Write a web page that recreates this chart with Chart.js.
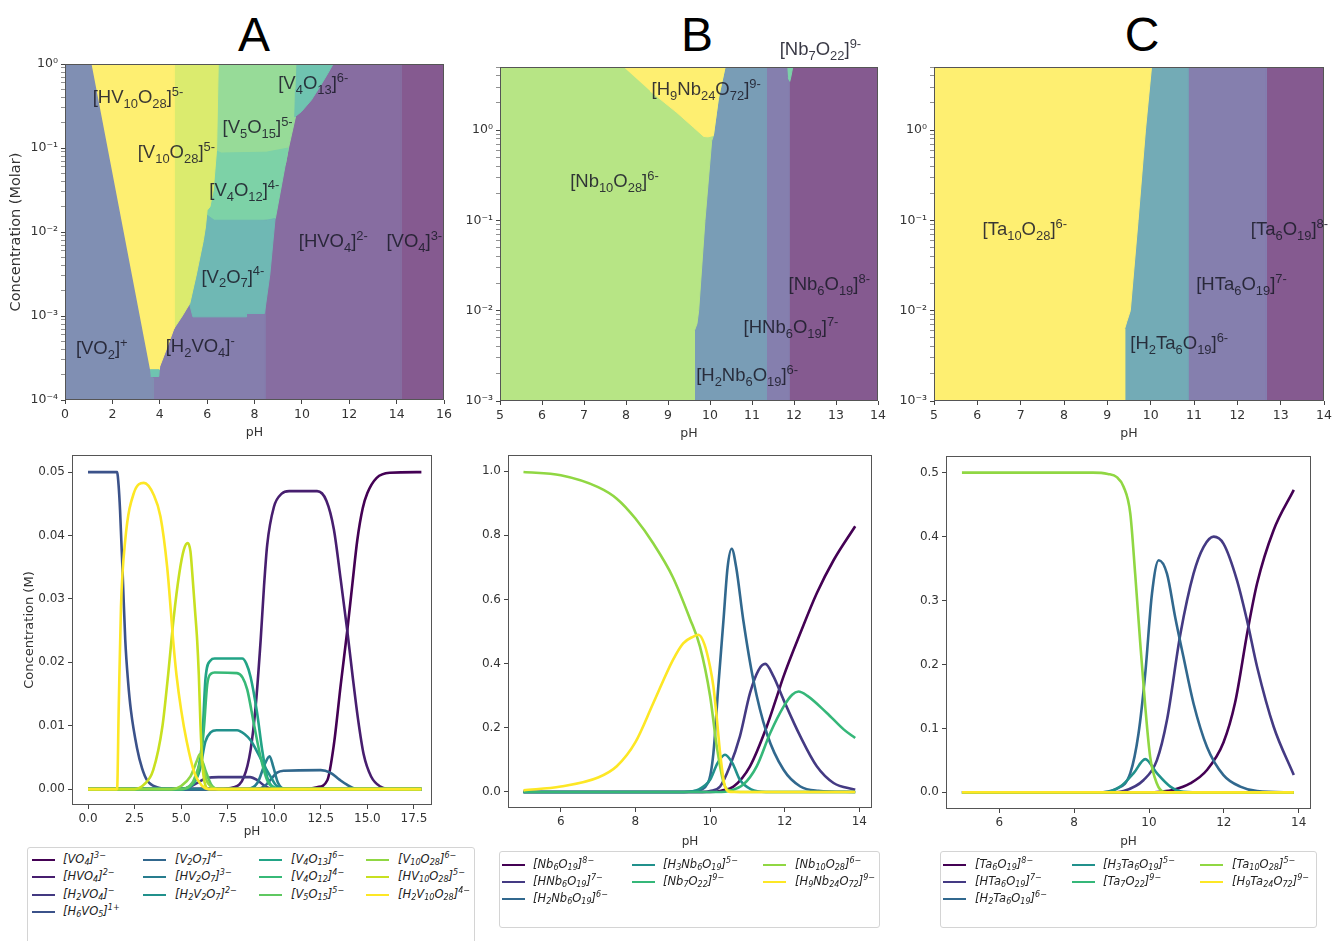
<!DOCTYPE html>
<html>
<head>
<meta charset="utf-8">
<script src="https://cdn.jsdelivr.net/npm/chart.js@4.4.1/dist/chart.umd.min.js"></script>
<style>
    html, body { margin: 0; padding: 0; background: #fff; width: 1335px; height: 941px; overflow: hidden; position: relative; font-family: "DejaVu Sans", sans-serif; }
    canvas { position: absolute; }
    .panel-title { position: absolute; font-family: "Liberation Sans", Arial, sans-serif; font-size: 48px; line-height: 1; color: #000; transform: translateX(-50%); }
    .region-label { position: absolute; font-family: "Liberation Sans", Arial, sans-serif; font-size: 18.5px; line-height: 1; color: rgba(28, 28, 42, 0.88); white-space: nowrap; }
    sub, sup { font-size: 0.7em; line-height: 0; position: relative; vertical-align: baseline; }
    .region-label sub { top: 0.38em; }
    .region-label sup { top: -0.55em; }
    .legend-box { position: absolute; border: 1px solid #d4d4d4; border-radius: 3px; box-sizing: border-box; background: #fff; }
    .legend-item { position: absolute; font-style: italic; font-size: 11.5px; line-height: 1; color: #222; white-space: nowrap; }
    .legend-item sub { top: 0.32em; }
    .legend-item sup { top: -0.5em; }
    .swatch { position: absolute; height: 2px; width: 23px; }
</style>
</head>
<body>

<div class="panel-title" style="left:254px; top:11px;">A</div>
<div class="panel-title" style="left:697px; top:11px;">B</div>
<div class="panel-title" style="left:1142px; top:11px;">C</div>

<script>

/* =========================================
   Top row: predominance diagrams
   polygon vertices are [pH, log10(concentration)]
   layers listed bottom -> top
========================================= */

const regionA_VO4 = [[0, 0], [16, 0], [16, -4], [0, -4]];
const regionA_HVO4 = [[0, 0], [14.2, 0], [14.2, -4], [0, -4]];
const regionA_H2VO4 = [[0, 0], [8.44, 0], [8.44, -4], [0, -4]];
const regionA_VO2 = [[0, 0], [1.12, 0], [3.59, -3.64], [3.62, -3.72], [3.73, -3.74], [3.73, -4], [0, -4]];
const regionA_V5O15 = [[6.2, 0], [9.77, 0], [9.73, -0.63], [9.42, -1.02], [9.3, -1.2], [6.2, -1.2]];
const regionA_V4O12 = [[5.9, -0.98], [6.6, -1.06], [8.5, -1.05], [9.43, -1.0], [8.88, -1.84], [5.9, -1.95]];
const regionA_V2O7 = [[5.5, -1.7], [6.3, -1.86], [8.5, -1.86], [8.87, -1.84], [8.65, -2.5], [8.42, -2.97], [7.66, -2.97], [7.66, -3.01], [5.4, -3.01], [5.27, -2.87], [5.5, -2.5]];
const regionA_V4O13 = [[9.77, 0], [11.32, 0], [11.1, -0.11], [10.76, -0.27], [10.4, -0.43], [9.98, -0.567], [9.7, -0.63], [9.73, -0.3]];
const regionA_V10O28 = [[4.6, 0], [6.47, 0], [6.4, -1.02], [6.26, -1.5], [6.12, -1.7], [6.0, -1.74], [5.93, -1.94], [5.84, -2.1], [5.55, -2.5], [5.27, -2.85], [4.95, -3.0], [4.6, -3.15]];
const regionA_HV10O28 = [[1.12, 0], [4.6, 0], [4.6, -3.15], [4.3, -3.38], [4.0, -3.6], [3.98, -3.64], [3.59, -3.64]];
const regionA_tip = [[3.59, -3.64], [3.98, -3.64], [3.96, -3.72], [3.62, -3.72]];

const regionB_Nb6O19 = [[5, 0.7], [14, 0.7], [14, -3], [5, -3]];
const regionB_HNb6O19 = [[5, 0.7], [11.88, 0.7], [11.88, -3], [5, -3]];
const regionB_Nb7O22 = [[11.84, 0.7], [11.97, 0.7], [11.93, 0.6], [11.9, 0.54], [11.86, 0.58]];
const regionB_H2Nb6O19 = [[5, 0.7], [11.34, 0.7], [11.34, -3], [5, -3]];
const regionB_Nb10O28 = [[5, 0.7], [10.36, 0.7], [10.2, 0.35], [10.08, -0.063], [10.04, -0.118], [9.88, -1.0], [9.73, -2.0], [9.69, -2.145], [9.63, -2.22], [9.63, -3], [5, -3]];
const regionB_H9Nb24O72 = [[7.94, 0.7], [10.36, 0.7], [10.2, 0.35], [10.08, -0.06], [9.95, -0.075], [9.85, -0.07], [9.61, 0.03], [9.21, 0.195], [8.57, 0.435]];

const regionC_Ta6O19 = [[5, 0.7], [14, 0.7], [14, -3], [5, -3]];
const regionC_HTa6O19 = [[5, 0.7], [12.67, 0.7], [12.67, -3], [5, -3]];
const regionC_H2Ta6O19 = [[5, 0.7], [10.86, 0.7], [10.86, -3], [5, -3]];
const regionC_Ta10O28 = [[5, 0.7], [10.02, 0.7], [9.88, 0], [9.71, -1.0], [9.53, -2.0], [9.45, -2.12], [9.4, -2.2], [9.4, -3], [5, -3]];

// region labels: left edge pH, baseline log10(C)
const labelsA = [
    {t: "[HV<sub>10</sub>O<sub>28</sub>]<sup>5-</sup>", x: 1.17, e: -0.468},
    {t: "[V<sub>10</sub>O<sub>28</sub>]<sup>5-</sup>", x: 3.07, e: -1.123},
    {t: "[V<sub>5</sub>O<sub>15</sub>]<sup>5-</sup>", x: 6.65, e: -0.833},
    {t: "[V<sub>4</sub>O<sub>13</sub>]<sup>6-</sup>", x: 9.0, e: -0.31},
    {t: "[V<sub>4</sub>O<sub>12</sub>]<sup>4-</sup>", x: 6.09, e: -1.58},
    {t: "[HVO<sub>4</sub>]<sup>2-</sup>", x: 9.87, e: -2.19},
    {t: "[VO<sub>4</sub>]<sup>3-</sup>", x: 13.57, e: -2.19},
    {t: "[V<sub>2</sub>O<sub>7</sub>]<sup>4-</sup>", x: 5.76, e: -2.61},
    {t: "[VO<sub>2</sub>]<sup>+</sup>", x: 0.46, e: -3.46},
    {t: "[H<sub>2</sub>VO<sub>4</sub>]<sup>-</sup>", x: 4.25, e: -3.44}
];
const labelsB = [
    {t: "[Nb<sub>7</sub>O<sub>22</sub>]<sup>9-</sup>", x: 11.66, e: 0.822},
    {t: "[H<sub>9</sub>Nb<sub>24</sub>O<sub>72</sub>]<sup>9-</sup>", x: 8.61, e: 0.38},
    {t: "[Nb<sub>10</sub>O<sub>28</sub>]<sup>6-</sup>", x: 6.67, e: -0.634},
    {t: "[Nb<sub>6</sub>O<sub>19</sub>]<sup>8-</sup>", x: 11.87, e: -1.777},
    {t: "[HNb<sub>6</sub>O<sub>19</sub>]<sup>7-</sup>", x: 10.8, e: -2.256},
    {t: "[H<sub>2</sub>Nb<sub>6</sub>O<sub>19</sub>]<sup>6-</sup>", x: 9.67, e: -2.79}
];
const labelsC = [
    {t: "[Ta<sub>10</sub>O<sub>28</sub>]<sup>6-</sup>", x: 6.12, e: -1.168},
    {t: "[Ta<sub>6</sub>O<sub>19</sub>]<sup>8-</sup>", x: 12.31, e: -1.168},
    {t: "[HTa<sub>6</sub>O<sub>19</sub>]<sup>7-</sup>", x: 11.05, e: -1.777},
    {t: "[H<sub>2</sub>Ta<sub>6</sub>O<sub>19</sub>]<sup>6-</sup>", x: 9.53, e: -2.433}
];

const xTicksTopA = [0, 2, 4, 6, 8, 10, 12, 14, 16];
const xTicksTopBC = [5, 6, 7, 8, 9, 10, 11, 12, 13, 14];
const yExpTopA = [-4, -3, -2, -1, 0];
const yExpTopBC = [-3, -2, -1, 0];

/* =========================================
   Bottom row: speciation curves, [pH, concentration]
========================================= */

const namesA = [
    "[VO<sub>4</sub>]<sup>3−</sup>",
    "[HVO<sub>4</sub>]<sup>2−</sup>",
    "[H<sub>2</sub>VO<sub>4</sub>]<sup>−</sup>",
    "[H<sub>6</sub>VO<sub>5</sub>]<sup>1+</sup>",
    "[V<sub>2</sub>O<sub>7</sub>]<sup>4−</sup>",
    "[HV<sub>2</sub>O<sub>7</sub>]<sup>3−</sup>",
    "[H<sub>2</sub>V<sub>2</sub>O<sub>7</sub>]<sup>2−</sup>",
    "[V<sub>4</sub>O<sub>13</sub>]<sup>6−</sup>",
    "[V<sub>4</sub>O<sub>12</sub>]<sup>4−</sup>",
    "[V<sub>5</sub>O<sub>15</sub>]<sup>5−</sup>",
    "[V<sub>10</sub>O<sub>28</sub>]<sup>6−</sup>",
    "[HV<sub>10</sub>O<sub>28</sub>]<sup>5−</sup>",
    "[H<sub>2</sub>V<sub>10</sub>O<sub>28</sub>]<sup>4−</sup>"
];

const seriesA = [
    // VO4 3-
    [[0, 0], [11.5, 0], [12.3, 0.0003], [12.85, 0.0014], [13.2, 0.007], [13.57, 0.0165], [13.92, 0.025], [14.2, 0.0325], [14.46, 0.0393], [14.75, 0.0443], [15.0, 0.0467], [15.5, 0.0491], [16.2, 0.0499], [17.9, 0.05]],
    // HVO4 2-
    [[0, 0], [7.0, 0], [7.83, 0.0003], [8.37, 0.0019], [8.73, 0.0062], [9.0, 0.013], [9.27, 0.0235], [9.45, 0.032], [9.62, 0.0385], [9.98, 0.0445], [10.4, 0.0466], [10.8, 0.047], [12.3, 0.047], [12.8, 0.0455], [13.2, 0.041], [13.57, 0.033], [13.92, 0.025], [14.2, 0.018], [14.5, 0.011], [14.8, 0.0055], [15.2, 0.002], [15.7, 0.0004], [16.3, 0], [17.9, 0]],
    // H2VO4 -
    [[0, 0], [5.0, 0], [5.5, 0.0004], [6.0, 0.0012], [6.4, 0.0018], [7.0, 0.0019], [8.7, 0.0019], [9.1, 0.0014], [9.4, 0.0007], [9.7, 0.0002], [10.2, 0], [17.9, 0]],
    // H6VO5 1+
    [[0, 0.05], [1.56, 0.05], [1.64, 0.048], [1.72, 0.044], [1.86, 0.034], [2.0, 0.0235], [2.15, 0.017], [2.3, 0.0125], [2.63, 0.0065], [2.9, 0.0033], [3.17, 0.0014], [3.7, 0.0003], [4.5, 0], [17.9, 0]],
    // V2O7 4-
    [[0, 0], [9.0, 0], [9.5, 0.0005], [9.8, 0.0015], [10.15, 0.0026], [10.5, 0.0029], [12.5, 0.003], [13.0, 0.0026], [13.5, 0.0015], [13.9, 0.0007], [14.3, 0.0001], [14.8, 0], [17.9, 0]],
    // HV2O7 3-
    [[0, 0], [8.5, 0], [9.1, 0.001], [9.5, 0.004], [9.75, 0.0052], [9.95, 0.0035], [10.2, 0.001], [10.6, 0], [17.9, 0]],
    // H2V2O7 2-
    [[0, 0], [5.0, 0], [5.6, 0.0007], [6.0, 0.003], [6.3, 0.0075], [6.6, 0.009], [6.9, 0.0093], [8.0, 0.0093], [8.4, 0.0087], [8.73, 0.0077], [9.17, 0.0054], [9.5, 0.0035], [9.8, 0.002], [10.1, 0.0006], [10.5, 0], [17.9, 0]],
    // V4O13 6-
    [[0, 0], [5.0, 0], [5.5, 0.0005], [5.86, 0.0025], [6.13, 0.0077], [6.31, 0.0175], [6.58, 0.0203], [6.8, 0.0206], [8.28, 0.0206], [8.5, 0.0198], [8.73, 0.0177], [9.08, 0.012], [9.35, 0.0062], [9.62, 0.0019], [9.97, 0.0003], [10.5, 0], [17.9, 0]],
    // V4O12 4-
    [[0, 0], [5.0, 0], [5.5, 0.0005], [5.86, 0.002], [6.1, 0.006], [6.22, 0.0095], [6.4, 0.0165], [6.6, 0.0182], [6.8, 0.0184], [8.0, 0.0183], [8.3, 0.0176], [8.55, 0.0157], [8.9, 0.0104], [9.26, 0.0051], [9.62, 0.0014], [10.0, 0.0002], [10.5, 0], [17.9, 0]],
    // V5O15 5-
    [[0, 0], [5.0, 0], [5.6, 0.001], [5.95, 0.0035], [6.1, 0.0045], [6.3, 0.003], [6.6, 0.0008], [7.0, 0], [17.9, 0]],
    // V10O28 6-
    [[0, 0], [4.5, 0], [5.0, 0.0005], [5.5, 0.002], [5.85, 0.0045], [6.0, 0.0055], [6.15, 0.004], [6.35, 0.0015], [6.7, 0.0002], [7.0, 0], [17.9, 0]],
    // HV10O28 5-
    [[0, 0], [2.5, 0], [3.0, 0.0007], [3.5, 0.003], [4.0, 0.01], [4.3, 0.018], [4.6, 0.027], [4.9, 0.034], [5.15, 0.0378], [5.35, 0.0388], [5.5, 0.0375], [5.6, 0.034], [5.75, 0.028], [5.86, 0.0235], [5.95, 0.018], [6.04, 0.01], [6.13, 0.0045], [6.25, 0.0012], [6.5, 0], [17.9, 0]],
    // H2V10O28 4-
    [[0, 0], [1.56, 0], [1.65, 0.013], [1.77, 0.0288], [2.0, 0.0393], [2.46, 0.0467], [3.0, 0.0483], [3.53, 0.0464], [3.89, 0.043], [4.25, 0.035], [4.6, 0.0225], [4.75, 0.018], [5.0, 0.0125], [5.3, 0.0075], [5.72, 0.0025], [6.1, 0.0006], [6.5, 0], [17.9, 0]]
];

const namesB = [
    "[Nb<sub>6</sub>O<sub>19</sub>]<sup>8−</sup>",
    "[HNb<sub>6</sub>O<sub>19</sub>]<sup>7−</sup>",
    "[H<sub>2</sub>Nb<sub>6</sub>O<sub>19</sub>]<sup>6−</sup>",
    "[H<sub>3</sub>Nb<sub>6</sub>O<sub>19</sub>]<sup>5−</sup>",
    "[Nb<sub>7</sub>O<sub>22</sub>]<sup>9−</sup>",
    "[Nb<sub>10</sub>O<sub>28</sub>]<sup>6−</sup>",
    "[H<sub>9</sub>Nb<sub>24</sub>O<sub>72</sub>]<sup>9−</sup>"
];

const seriesB = [
    // Nb6O19 8-
    [[5, 0], [10.0, 0], [10.3, 0.004], [10.63, 0.017], [11.07, 0.08], [11.52, 0.204], [11.79, 0.297], [11.97, 0.36], [12.42, 0.495], [12.86, 0.619], [13.31, 0.722], [13.89, 0.828]],
    // HNb6O19 7-
    [[5, 0], [9.8, 0], [10.0, 0.003], [10.27, 0.017], [10.53, 0.08], [10.8, 0.173], [11.07, 0.308], [11.3, 0.38], [11.48, 0.399], [11.7, 0.36], [11.97, 0.287], [12.42, 0.173], [12.86, 0.08], [13.31, 0.028], [13.89, 0.007]],
    // H2Nb6O19 6-
    [[5, 0], [9.3, 0], [9.6, 0.003], [9.95, 0.03], [10.09, 0.121], [10.22, 0.328], [10.36, 0.536], [10.47, 0.7], [10.58, 0.758], [10.7, 0.7], [10.89, 0.536], [11.16, 0.349], [11.52, 0.183], [11.97, 0.069], [12.42, 0.017], [12.9, 0.004], [13.89, 0]],
    // H3Nb6O19 5-
    [[5, 0], [9.3, 0], [9.7, 0.008], [10.0, 0.038], [10.2, 0.09], [10.4, 0.116], [10.6, 0.09], [10.8, 0.038], [11.1, 0.008], [11.5, 0], [13.89, 0]],
    // Nb7O22 9-
    [[5, 0], [10.3, 0], [10.5, 0.003], [10.89, 0.023], [11.25, 0.08], [11.61, 0.183], [11.97, 0.266], [12.2, 0.303], [12.37, 0.313], [12.6, 0.3], [13.13, 0.246], [13.58, 0.195], [13.89, 0.168]],
    // Nb10O28 6-
    [[5, 0.997], [6, 0.987], [7, 0.95], [7.5, 0.914], [8, 0.852], [8.48, 0.774], [9.0, 0.67], [9.46, 0.54], [9.73, 0.453], [10.0, 0.3], [10.18, 0.142], [10.36, 0.03], [10.55, 0.003], [10.8, 0], [13.89, 0]],
    // H9Nb24O72 9-
    [[5, 0.005], [6, 0.017], [7, 0.045], [7.5, 0.08], [8, 0.155], [8.48, 0.277], [9.0, 0.41], [9.28, 0.463], [9.55, 0.484], [9.69, 0.49], [9.85, 0.46], [10.0, 0.39], [10.09, 0.328], [10.18, 0.23], [10.27, 0.121], [10.4, 0.017], [10.55, 0], [13.89, 0]]
];

const namesC = [
    "[Ta<sub>6</sub>O<sub>19</sub>]<sup>8−</sup>",
    "[HTa<sub>6</sub>O<sub>19</sub>]<sup>7−</sup>",
    "[H<sub>2</sub>Ta<sub>6</sub>O<sub>19</sub>]<sup>6−</sup>",
    "[H<sub>3</sub>Ta<sub>6</sub>O<sub>19</sub>]<sup>5−</sup>",
    "[Ta<sub>7</sub>O<sub>22</sub>]<sup>9−</sup>",
    "[Ta<sub>10</sub>O<sub>28</sub>]<sup>5−</sup>",
    "[H<sub>9</sub>Ta<sub>24</sub>O<sub>72</sub>]<sup>9−</sup>"
];

const seriesC = [
    // Ta6O19 8-
    [[5, 0], [10.0, 0], [10.3, 0.001], [10.66, 0.004], [11.1, 0.014], [11.55, 0.035], [11.99, 0.078], [12.3, 0.14], [12.64, 0.254], [12.89, 0.327], [13.33, 0.41], [13.87, 0.473]],
    // HTa6O19 7-
    [[5, 0], [9.0, 0], [9.32, 0.002], [9.85, 0.019], [10.21, 0.05], [10.48, 0.113], [10.84, 0.248], [11.19, 0.342], [11.46, 0.384], [11.73, 0.4], [11.99, 0.389], [12.35, 0.332], [12.62, 0.269], [12.89, 0.196], [13.33, 0.103], [13.87, 0.027]],
    // H2Ta6O19 6-
    [[5, 0], [8.6, 0], [9.14, 0.006], [9.5, 0.03], [9.72, 0.092], [9.9, 0.186], [10.08, 0.311], [10.26, 0.363], [10.48, 0.342], [10.7, 0.274], [10.92, 0.212], [11.19, 0.139], [11.55, 0.071], [11.99, 0.027], [12.44, 0.009], [12.89, 0.002], [13.87, 0]],
    // H3Ta6O19 5-
    [[5, 0], [8.78, 0], [9.23, 0.009], [9.59, 0.03], [9.9, 0.052], [10.21, 0.03], [10.57, 0.009], [10.92, 0.001], [11.5, 0], [13.87, 0]],
    // Ta7O22 9-
    [[5, 0], [13.87, 0]],
    // Ta10O28 5-
    [[5, 0.5], [8.5, 0.5], [8.9, 0.498], [9.14, 0.493], [9.32, 0.478], [9.5, 0.436], [9.63, 0.342], [9.76, 0.238], [9.9, 0.134], [10.03, 0.056], [10.21, 0.014], [10.39, 0.001], [10.6, 0], [13.87, 0]],
    // H9Ta24O72 9-
    [[5, 0], [13.87, 0]]
];

const xTicksBotA = [0, 2.5, 5, 7.5, 10, 12.5, 15, 17.5];
const yTicksBotA = [0, 0.01, 0.02, 0.03, 0.04, 0.05];
const xTicksBotBC = [6, 8, 10, 12, 14];
const yTicksBotB = [0, 0.2, 0.4, 0.6, 0.8, 1.0];
const yTicksBotC = [0, 0.1, 0.2, 0.3, 0.4, 0.5];

// ================================
// Colours (viridis)
// ================================

const viridis13 = ["#440154", "#471e6f", "#433981", "#3b528a", "#31678d", "#287d8e", "#21918c", "#22a486", "#37b977", "#5fc861", "#90d743", "#c8e020", "#fde725"];
const viridis7 = ["#440154", "#443a83", "#31688e", "#21918c", "#35b779", "#90d743", "#fde725"];

function tint(hex) {
    const n = parseInt(hex.slice(1), 16);
    const a = 0.65;
    const m = v => Math.round(v * a + 255 * (1 - a));
    return "rgb(" + m((n >> 16) & 255) + "," + m((n >> 8) & 255) + "," + m(n & 255) + ")";
}

// ================================
// Helpers
// ================================

const framePlugin = {
    id: "frame",
    afterDatasetsDraw(chart) {
        const {ctx, chartArea: a} = chart;
        ctx.save();
        ctx.strokeStyle = "#555";
        ctx.lineWidth = 1;
        ctx.strokeRect(Math.round(a.left) + 0.5, Math.round(a.top) + 0.5, Math.round(a.right - a.left) - 1, Math.round(a.bottom - a.top) - 1);
        ctx.restore();
    }
};

const superDigits = {"-": "⁻", "0": "⁰", "1": "¹", "2": "²", "3": "³", "4": "⁴", "5": "⁵", "6": "⁶", "7": "⁷", "8": "⁸", "9": "⁹"};

function powerLabel(v) {
    const e = Math.round(Math.log10(v));
    return "10" + String(e).split("").map(c => superDigits[c]).join("");
}

function makeCanvas(box, yw, xh, pad) {
    const cv = document.createElement("canvas");
    cv.width = box.r - box.l + yw + pad.r;
    cv.height = box.b - box.t + xh + pad.t;
    cv.style.left = (box.l - yw) + "px";
    cv.style.top = (box.t - pad.t) + "px";
    document.body.appendChild(cv);
    return cv;
}

function axisBase(size) {
    return {
        grid: {display: true, drawOnChartArea: false, drawTicks: true, tickLength: 4, tickColor: "#444"},
        border: {display: false},
        ticks: {color: "#333", font: {family: "DejaVu Sans", size: size}, padding: 3, autoSkip: false, maxRotation: 0}
    };
}

// ================================
// Predominance panels
// ================================

function predominanceChart(cfg) {

    const cv = makeCanvas(cfg.box, cfg.yw, cfg.xh, cfg.pad);

    const n = cfg.layers.length;

    const datasets = cfg.layers.map((layer, j) => ({
        data: layer.pts.map(p => ({x: p[0], y: 10 ** p[1]})),
        backgroundColor: tint(layer.color),
        borderColor: tint(layer.color),
        borderWidth: 1,
        pointRadius: 0,
        fill: "shape",
        order: n - j
    }));

    const xAxis = axisBase(12.5);
    Object.assign(xAxis, {
        type: "linear", min: cfg.xMin, max: cfg.xMax,
        afterBuildTicks: s => { s.ticks = cfg.xTicks.map(v => ({value: v})); },
        afterFit: s => { s.height = cfg.xh; },
        title: {display: true, text: "pH", color: "#333", font: {family: "DejaVu Sans", size: 12.5}, padding: {top: 2, bottom: 4}}
    });

    const yAxis = axisBase(12.5);
    yAxis.grid.tickWidth = c => (c.tick && c.tick.minor ? 0.6 : 1);
    Object.assign(yAxis, {
        type: "logarithmic", min: 10 ** cfg.yExp[0], max: cfg.yMax,
        afterBuildTicks: s => {
            const t = [];
            cfg.yExp.forEach(e => {
                t.push({value: 10 ** e});
                for (let k = 2; k <= 9; k++) {
                    if (k * 10 ** e <= cfg.yMax) t.push({value: k * 10 ** e, minor: true});
                }
            });
            s.ticks = t;
        },
        afterFit: s => { s.width = cfg.yw; }
    });
    yAxis.ticks.callback = (v, i, ticks) => (ticks[i].minor ? "" : powerLabel(v));
    if (cfg.yTitle) {
        yAxis.title = {display: true, text: cfg.yTitle, color: "#333", font: {family: "DejaVu Sans", size: 14.5}, padding: {top: 4, bottom: 2}};
    }

    const chart = new Chart(cv, {
        type: "line",
        data: {datasets},
        options: {
            responsive: false,
            animation: false,
            events: [],
            layout: {padding: {top: cfg.pad.t, right: cfg.pad.r, left: 0, bottom: 0}},
            plugins: {legend: {display: false}, tooltip: {enabled: false}},
            scales: {x: xAxis, y: yAxis}
        },
        plugins: [framePlugin]
    });

    // region names, positioned through the chart's scales
    const left0 = cfg.box.l - cfg.yw;
    const top0 = cfg.box.t - cfg.pad.t;
    cfg.labels.forEach(lb => {
        const d = document.createElement("div");
        d.className = "region-label";
        d.innerHTML = lb.t;
        const px = chart.scales.x.getPixelForValue(lb.x) + left0;
        const py = chart.scales.y.getPixelForValue(10 ** lb.e) + top0;
        d.style.left = px + "px";
        d.style.top = (py - 0.8465 * 18.5) + "px";
        document.body.appendChild(d);
    });
}

// ================================
// Speciation panels
// ================================

function speciationChart(cfg) {

    const cv = makeCanvas(cfg.box, cfg.yw, cfg.xh, cfg.pad);

    const n = cfg.series.length;

    const datasets = cfg.series.map((s, i) => ({
        data: s.map(p => ({x: p[0], y: p[1]})),
        borderColor: cfg.colors[i],
        borderWidth: 2.6,
        pointRadius: 0,
        fill: false,
        cubicInterpolationMode: "monotone",
        order: n - i
    }));

    const xAxis = axisBase(12);
    Object.assign(xAxis, {
        type: "linear", min: cfg.xMin, max: cfg.xMax,
        afterBuildTicks: s => { s.ticks = cfg.xTicks.map(v => ({value: v})); },
        afterFit: s => { s.height = cfg.xh; },
        title: {display: true, text: "pH", color: "#333", font: {family: "DejaVu Sans", size: 12}, padding: {top: 2, bottom: 4}}
    });
    xAxis.ticks.callback = v => v.toFixed(cfg.xDec);

    const yAxis = axisBase(12);
    Object.assign(yAxis, {
        type: "linear", min: cfg.yMin, max: cfg.yMax,
        afterBuildTicks: s => { s.ticks = cfg.yTicks.map(v => ({value: v})); },
        afterFit: s => { s.width = cfg.yw; }
    });
    yAxis.ticks.callback = v => v.toFixed(cfg.yDec);
    if (cfg.yTitle) {
        yAxis.title = {display: true, text: cfg.yTitle, color: "#333", font: {family: "DejaVu Sans", size: 13}, padding: {top: 4, bottom: 2}};
    }

    new Chart(cv, {
        type: "line",
        data: {datasets},
        options: {
            responsive: false,
            animation: false,
            events: [],
            layout: {padding: {top: cfg.pad.t, right: cfg.pad.r, left: 0, bottom: 0}},
            plugins: {legend: {display: false}, tooltip: {enabled: false}},
            scales: {x: xAxis, y: yAxis}
        },
        plugins: [framePlugin]
    });
}

// ================================
// Legends (matplotlib style, column-major)
// ================================

function buildLegend(cfg) {

    const box = document.createElement("div");
    box.className = "legend-box";
    box.style.left = cfg.box.l + "px";
    box.style.top = cfg.box.t + "px";
    box.style.width = (cfg.box.r - cfg.box.l) + "px";
    box.style.height = (cfg.box.b - cfg.box.t) + "px";
    document.body.appendChild(box);

    const n = cfg.names.length;
    const ncol = cfg.cols.length;
    const base = Math.floor(n / ncol);
    const extra = n % ncol;

    let k = 0;
    for (let c = 0; c < ncol; c++) {
        const rows = base + (c < extra ? 1 : 0);
        for (let r = 0; r < rows; r++, k++) {
            const y = Math.round(cfg.row0 + r * cfg.rowStep);
            const sw = document.createElement("div");
            sw.className = "swatch";
            sw.style.left = Math.round(cfg.cols[c]) + "px";
            sw.style.top = (y - 1) + "px";
            sw.style.background = cfg.colors[k];
            document.body.appendChild(sw);

            const item = document.createElement("div");
            item.className = "legend-item";
            item.innerHTML = cfg.names[k];
            item.style.left = Math.round(cfg.cols[c] + 31.6) + "px";
            item.style.top = (y - 6.5) + "px";
            document.body.appendChild(item);
        }
    }
}

// ================================
// Build
// ================================

predominanceChart({
    box: {l: 65, t: 64, r: 444, b: 400}, yw: 61, xh: 44, pad: {t: 12, r: 15},
    xMin: 0, xMax: 16, xTicks: xTicksTopA, yExp: yExpTopA, yMax: 1,
    yTitle: "Concentration (Molar)",
    layers: [
        {pts: regionA_VO4, color: viridis13[0]},
        {pts: regionA_HVO4, color: viridis13[1]},
        {pts: regionA_H2VO4, color: viridis13[2]},
        {pts: regionA_VO2, color: viridis13[3]},
        {pts: regionA_V5O15, color: viridis13[9]},
        {pts: regionA_V4O12, color: viridis13[8]},
        {pts: regionA_V2O7, color: viridis13[6]},
        {pts: regionA_V4O13, color: viridis13[7]},
        {pts: regionA_V10O28, color: viridis13[11]},
        {pts: regionA_HV10O28, color: viridis13[12]},
        {pts: regionA_tip, color: viridis13[7]}
    ],
    labels: labelsA
});

predominanceChart({
    box: {l: 500, t: 67, r: 878, b: 401}, yw: 45, xh: 44, pad: {t: 12, r: 15},
    xMin: 5, xMax: 14, xTicks: xTicksTopBC, yExp: yExpTopBC, yMax: 5,
    layers: [
        {pts: regionB_Nb6O19, color: viridis7[0]},
        {pts: regionB_HNb6O19, color: viridis7[1]},
        {pts: regionB_Nb7O22, color: viridis7[4]},
        {pts: regionB_H2Nb6O19, color: viridis7[2]},
        {pts: regionB_Nb10O28, color: viridis7[5]},
        {pts: regionB_H9Nb24O72, color: viridis7[6]}
    ],
    labels: labelsB
});

predominanceChart({
    box: {l: 934, t: 67, r: 1324, b: 401}, yw: 45, xh: 44, pad: {t: 12, r: 11},
    xMin: 5, xMax: 14, xTicks: xTicksTopBC, yExp: yExpTopBC, yMax: 5,
    layers: [
        {pts: regionC_Ta6O19, color: viridis7[0]},
        {pts: regionC_HTa6O19, color: viridis7[1]},
        {pts: regionC_H2Ta6O19, color: "#287d8e"},
        {pts: regionC_Ta10O28, color: viridis7[6]}
    ],
    labels: labelsC
});

speciationChart({
    box: {l: 72, t: 455, r: 432, b: 805}, yw: 54, xh: 38, pad: {t: 12, r: 15},
    xMin: -0.86, xMax: 18.47, yMin: -0.0025, yMax: 0.0527,
    xTicks: xTicksBotA, yTicks: yTicksBotA, xDec: 1, yDec: 2,
    yTitle: "Concentration (M)",
    series: seriesA, colors: viridis13
});

speciationChart({
    box: {l: 508, t: 455, r: 872, b: 808}, yw: 50, xh: 45, pad: {t: 12, r: 15},
    xMin: 4.585, xMax: 14.34, yMin: -0.05, yMax: 1.05,
    xTicks: xTicksBotBC, yTicks: yTicksBotB, xDec: 0, yDec: 1,
    series: seriesB, colors: viridis7
});

speciationChart({
    box: {l: 946, t: 456, r: 1311, b: 809}, yw: 50, xh: 44, pad: {t: 12, r: 15},
    xMin: 4.574, xMax: 14.33, yMin: -0.026, yMax: 0.526,
    xTicks: xTicksBotBC, yTicks: yTicksBotC, xDec: 0, yDec: 1,
    series: seriesC, colors: viridis7
});

buildLegend({box: {l: 27, t: 847, r: 475, b: 948}, cols: [31.7, 143.3, 259, 366], row0: 860, rowStep: 17.4, names: namesA, colors: viridis13});
buildLegend({box: {l: 499, t: 851, r: 880, b: 928}, cols: [501.7, 631.7, 763.3], row0: 865, rowStep: 17, names: namesB, colors: viridis7});
buildLegend({box: {l: 940, t: 851, r: 1317, b: 928}, cols: [943, 1071.7, 1200], row0: 865, rowStep: 17, names: namesC, colors: viridis7});

</script>
</body>
</html>
